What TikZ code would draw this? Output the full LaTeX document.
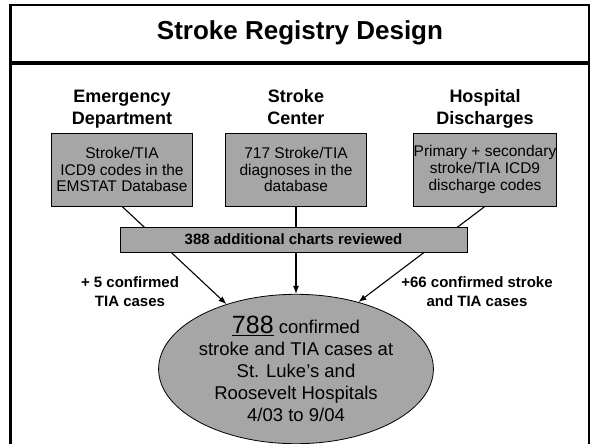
\documentclass[tikz,border=0pt]{standalone}
\usepackage{fontspec}
\setmainfont{Liberation Sans}
\usepackage{xcolor}
\usetikzlibrary{arrows.meta,shapes.geometric,backgrounds}
\definecolor{RegGray}{HTML}{A6A6A6}
\definecolor{RegLine}{HTML}{000000}
\tikzset{
  regframe/.style={RegLine,line width=2.6pt},
  srchead/.style={align=center,text depth=4pt,
    font=\fontsize{18}{22}\selectfont\bfseries},
  srcbox/.style={draw=RegLine,fill=RegGray,line width=0.7pt,align=center,
    minimum width=141pt,minimum height=73pt,inner sep=0pt,
    font=\fontsize{15.5}{16.8}\selectfont},
  sidelabel/.style={align=center,font=\fontsize{15}{19}\selectfont\bfseries},
  flowarrow/.style={RegLine,line width=1.1pt,-{Latex[length=8pt,width=6pt]}}
}

\begin{document}
\begin{tikzpicture}[x=1pt,y=-1pt]
        \useasboundingbox (0,0) rectangle (592,444);

        % frame
        \draw[regframe] (10.5,5) rectangle (589,62);
        \draw[regframe] (10.5,452) -- (10.5,64) -- (589,64) -- (589,452);
        \node[font=\fontsize{26}{30}\selectfont\bfseries] (title) at (300,33)
          {Stroke Registry Design};

        % sources
        \node[srchead] (edhead) at (122,109) {Emergency\\Department};
        \node[srcbox] (ed) at (122,169.5)
          {Stroke/TIA\\ICD9 codes in the\\EMSTAT Database};
        \node[srchead] (schead) at (296,109) {Stroke\\Center};
        \node[srcbox] (sc) at (296,169.5)
          {717 Stroke/TIA\\diagnoses in the\\database};
        \node[srchead] (hdhead) at (485,109) {Hospital\\Discharges};
        \node[srcbox] (hd) at (485,169.5)
          {Primary + secondary\\stroke/TIA ICD9\\discharge codes};

        \node[draw=RegLine,fill=RegGray,line width=0.7pt,minimum width=347pt,
          minimum height=25pt,inner sep=0pt,
          font=\fontsize{15}{16}\selectfont\bfseries] (charts) at (293.5,239.5)
          {388 additional charts reviewed};

        \node[ellipse,draw=RegLine,fill=RegGray,line width=0.8pt,
          minimum width=248pt,minimum height=140pt,inner sep=0pt,align=center,
          font=\fontsize{18.5}{22}\selectfont] (cases) at (296,369)
          {{\fontsize{25}{25}\selectfont\underline{788}} confirmed\\
           stroke and TIA cases at\\St. Luke’s and\\Roosevelt Hospitals\\
           4/03 to 9/04};

        \node[sidelabel] (tia) at (130,292) {+ 5 confirmed\\TIA cases};
        \node[sidelabel] (both) at (477,292) {+66 confirmed stroke\\and TIA cases};

        \begin{scope}[on background layer]
          \draw[flowarrow] (ed.south) -- (cases.137);
          \draw[flowarrow] (sc.south) -- (cases.north);
          \draw[flowarrow] (hd.south) -- (cases.47);
        \end{scope}
      \end{tikzpicture}
\end{document}
